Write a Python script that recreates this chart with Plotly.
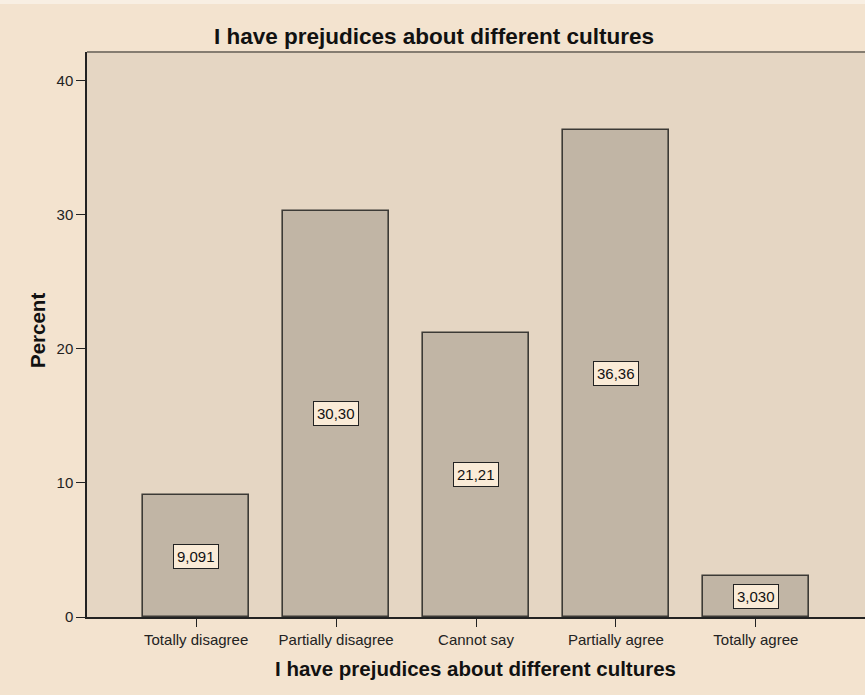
import plotly.graph_objects as go

# Survey responses (percent of respondents)
categories = ["Totally disagree", "Partially disagree", "Cannot say", "Partially agree", "Totally agree"]
percents = [9.091, 30.30, 21.21, 36.36, 3.030]
value_labels = ["9,091", "30,30", "21,21", "36,36", "3,030"]
y_ticks = [0, 10, 20, 30, 40]

title_text = "I have prejudices about different cultures"

W, H = 865, 695
L, R, T, B = 87, 0, 52, 78

outer_bg = "#f3e3cf"
plot_bg = "#e5d6c3"
bar_fill = "#c1b5a5"
bar_edge = "#3c3a36"
label_bg = "#faebd7"
FONT = "Liberation Sans, Arial, sans-serif"

fig = go.Figure()
fig.add_trace(go.Bar(
    x=list(range(len(categories))),
    y=percents,
    width=0.757,
    marker=dict(color=bar_fill, line=dict(color=bar_edge, width=1.6)),
    hoverinfo="skip",
))

# value boxes at half height of each bar
for i, (v, lab) in enumerate(zip(percents, value_labels)):
    fig.add_annotation(
        x=i, y=v / 2, xref="x", yref="y", text=lab, showarrow=False,
        font=dict(family=FONT, size=15, color="#111"),
        bgcolor=label_bg, bordercolor="#222", borderwidth=1, borderpad=3,
    )

pw = W - L - R
ph = H - T - B

# chart title
fig.add_annotation(
    x=(434 - L) / pw, y=(H - B - 36) / ph, xref="paper", yref="paper",
    text="<b>" + title_text + "</b>", showarrow=False,
    font=dict(family=FONT, size=22.5, color="#111"),
    xanchor="center", yanchor="middle",
)
# x axis title
fig.add_annotation(
    x=(475 - L) / pw, y=(H - B - 668) / ph, xref="paper", yref="paper",
    text="<b>" + title_text + "</b>", showarrow=False,
    font=dict(family=FONT, size=20.5, color="#111"),
    xanchor="center", yanchor="middle",
)
# y axis title
fig.add_annotation(
    x=(37 - L) / pw, y=(H - B - 331) / ph, xref="paper", yref="paper",
    text="<b>Percent</b>", showarrow=False, textangle=-90,
    font=dict(family=FONT, size=20.5, color="#111"),
    xanchor="center", yanchor="middle",
)

# top frame line of the plot area
fig.add_shape(type="line", xref="paper", yref="paper", x0=0, x1=1, y0=1, y1=1,
              line=dict(color="#857d71", width=2.2))
# light strip along the top edge
fig.add_shape(type="rect", xref="paper", yref="paper",
              x0=-L / pw - 0.01, x1=1.01, y0=(H - B - 4) / ph, y1=(H - B + 2) / ph,
              line=dict(width=0), fillcolor="#f8efe3", layer="above")

fig.update_layout(
    width=W, height=H,
    margin=dict(l=L, r=R, t=T, b=B, pad=0),
    paper_bgcolor=outer_bg, plot_bgcolor=plot_bg,
    showlegend=False,
    bargap=0,
    font=dict(family=FONT, size=15, color="#222"),
    xaxis=dict(
        range=[-0.78, 4.78], tickmode="array",
        tickvals=list(range(len(categories))), ticktext=categories,
        ticks="outside", ticklen=8, tickwidth=1.3, tickcolor="#222",
        showline=True, linecolor="#222", linewidth=1.5,
        showgrid=False, zeroline=False, fixedrange=True,
        tickfont=dict(family=FONT, size=15, color="#222"),
    ),
    yaxis=dict(
        range=[0, 42.16], tickmode="array", tickvals=y_ticks,
        ticks="outside", ticklen=9, tickwidth=1.3, tickcolor="#222",
        showline=True, linecolor="#222", linewidth=1.5,
        showgrid=False, zeroline=False, fixedrange=True,
        tickfont=dict(family=FONT, size=15, color="#222"),
    ),
)

fig.write_html("out.html")
